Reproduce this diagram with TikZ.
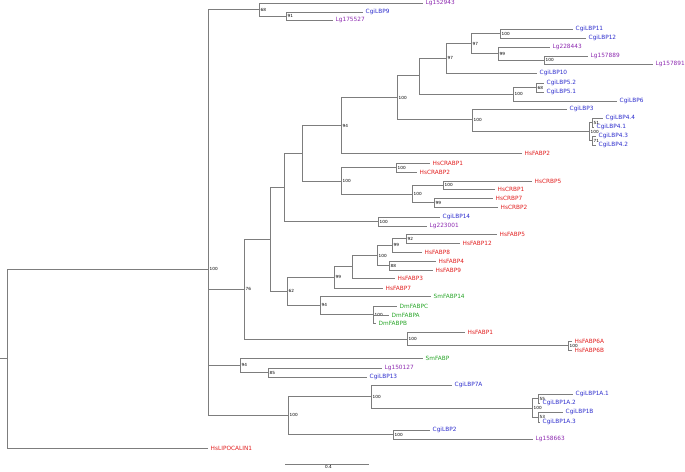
\documentclass[tikz,border=0pt]{standalone}
\usepackage{fontspec}
\setmainfont{DejaVu Sans}
\definecolor{cgi}{RGB}{45,45,205}
\definecolor{lgc}{RGB}{140,40,175}
\definecolor{hsc}{RGB}{225,30,30}
\definecolor{grc}{RGB}{40,165,40}
\definecolor{brc}{RGB}{125,125,125}
\newcommand{\myleaf}[5]{\coordinate (#1) at (#2,#3); \node[leaflab,text=#4] (t#1) at (#1) {#5};}
\newcommand{\mynd}[4]{\coordinate (#1) at (#2,#3); \node[sup] (s#1) at (#1) {#4};}
\begin{document}
\begin{tikzpicture}[x=1pt,y=-1pt,
  br/.style={draw=brc,line width=0.7pt},
  leaflab/.style={anchor=west,inner sep=0pt,xshift=2.5pt,font=\fontsize{5.8}{6}\selectfont},
  sup/.style={anchor=west,inner sep=0pt,xshift=1.5pt,font=\fontsize{4.2}{4.5}\selectfont,text=black}]
\useasboundingbox (0,0) rectangle (685,471);
% internal nodes
\coordinate (R0) at (0,358.5);
\coordinate (R) at (7,358.5);
\mynd{N100a}{208}{269}{100}
\mynd{N68}{259}{9.5}{68}
\mynd{N91}{286}{16}{91}
\mynd{N76}{244}{289}{76}
\coordinate (Z) at (270,239.25);
\coordinate (Y) at (284,187.5);
\coordinate (X) at (302,153.5);
\mynd{N94a}{341}{125.5}{94}
\mynd{N100b}{397}{97.75}{100}
\coordinate (W) at (419,75.5);
\mynd{N97b}{446}{58.25}{97}
\mynd{N97a}{471}{43.5}{97}
\mynd{N100e}{500}{33.5}{100}
\mynd{N99a}{498}{53.5}{99}
\mynd{N100f}{544}{60}{100}
\mynd{N100d}{513}{94.25}{100}
\mynd{N68b}{536}{87.5}{68}
\mynd{N100c}{472}{119.5}{100}
\mynd{N100g}{589}{131.5}{100}
\mynd{N51}{592}{122.5}{51}
\mynd{N71}{592}{140.5}{71}
\mynd{N100h}{341}{181}{100}
\mynd{N100i}{396}{167.5}{100}
\mynd{N100j}{412}{194}{100}
\mynd{N100k}{443}{185}{100}
\mynd{N99b}{434}{202.5}{99}
\mynd{N100l}{378}{221.5}{100}
\mynd{N62}{287}{291}{62}
\mynd{N99c}{334}{277}{99}
\coordinate (U) at (352,266.5);
\mynd{N100m}{377}{255.5}{100}
\mynd{N99d}{392}{245.25}{99}
\mynd{N92}{406}{238.5}{92}
\mynd{N88}{389}{265.5}{88}
\mynd{N94b}{320}{305}{94}
\mynd{N100n}{373}{314.7}{100}
\mynd{N100o}{407}{339}{100}
\mynd{N100p}{568}{345.5}{100}
\mynd{N94c}{240}{365}{94}
\mynd{N85}{268}{372.5}{85}
\mynd{N100q}{288}{415.25}{100}
\mynd{N100r}{371}{396.5}{100}
\mynd{N100t}{532}{408}{100}
\mynd{N55}{538}{398.5}{55}
\mynd{N53}{538}{417}{53}
\mynd{N100s}{393}{434.5}{100}
% leaves
\myleaf{lipo}{208}{448}{hsc}{HsLIPOCALIN1}
\myleaf{lga}{423}{3}{lgc}{Lg152943}
\myleaf{cg9}{363}{12}{cgi}{CgiLBP9}
\myleaf{lgb}{333}{20}{lgc}{Lg175527}
\myleaf{cg11}{573}{29}{cgi}{CgiLBP11}
\myleaf{cg12}{586}{38}{cgi}{CgiLBP12}
\myleaf{lgc1}{550}{47}{lgc}{Lg228443}
\myleaf{lgd}{588}{56}{lgc}{Lg157889}
\myleaf{lge}{653}{64}{lgc}{Lg157891}
\myleaf{cg10}{537}{73}{cgi}{CgiLBP10}
\myleaf{cg52}{544}{83}{cgi}{CgiLBP5.2}
\myleaf{cg51}{544}{92}{cgi}{CgiLBP5.1}
\myleaf{cg6}{617}{101}{cgi}{CgiLBP6}
\myleaf{cg3}{567}{109}{cgi}{CgiLBP3}
\myleaf{cg44}{603}{118}{cgi}{CgiLBP4.4}
\myleaf{cg41}{594}{127}{cgi}{CgiLBP4.1}
\myleaf{cg43}{596}{136}{cgi}{CgiLBP4.3}
\myleaf{cg42}{596}{145}{cgi}{CgiLBP4.2}
\myleaf{hf2}{522}{153}{hsc}{HsFABP2}
\myleaf{cra1}{430}{163}{hsc}{HsCRABP1}
\myleaf{cra2}{417}{172}{hsc}{HsCRABP2}
\myleaf{crb5}{532}{181}{hsc}{HsCRBP5}
\myleaf{crb1}{495}{189}{hsc}{HsCRBP1}
\myleaf{crb7}{493}{198}{hsc}{HsCRBP7}
\myleaf{crb2}{498}{207}{hsc}{HsCRBP2}
\myleaf{cg14}{440}{217}{cgi}{CgiLBP14}
\myleaf{lgf}{427}{226}{lgc}{Lg223001}
\myleaf{hf5}{497}{234}{hsc}{HsFABP5}
\myleaf{hf12}{460}{243}{hsc}{HsFABP12}
\myleaf{hf8}{422}{252}{hsc}{HsFABP8}
\myleaf{hf4}{436}{261}{hsc}{HsFABP4}
\myleaf{hf9}{433}{270}{hsc}{HsFABP9}
\myleaf{hf3}{395}{278}{hsc}{HsFABP3}
\myleaf{hf7}{383}{288}{hsc}{HsFABP7}
\myleaf{sm14}{431}{296}{grc}{SmFABP14}
\myleaf{dmc}{397}{306}{grc}{DmFABPC}
\myleaf{dma}{389}{315}{grc}{DmFABPA}
\myleaf{dmb}{376}{323}{grc}{DmFABPB}
\myleaf{hf1}{465}{332}{hsc}{HsFABP1}
\myleaf{hf6a}{572}{341}{hsc}{HsFABP6A}
\myleaf{hf6b}{572}{350}{hsc}{HsFABP6B}
\myleaf{smf}{423}{358}{grc}{SmFABP}
\myleaf{lgg}{382}{368}{lgc}{Lg150127}
\myleaf{cg13}{367}{377}{cgi}{CgiLBP13}
\myleaf{cg7a}{452}{385}{cgi}{CgiLBP7A}
\myleaf{cg1a1}{573}{394}{cgi}{CgiLBP1A.1}
\myleaf{cg1a2}{540}{403}{cgi}{CgiLBP1A.2}
\myleaf{cg1b}{563}{412}{cgi}{CgiLBP1B}
\myleaf{cg1a3}{540}{422}{cgi}{CgiLBP1A.3}
\myleaf{cg2}{430}{430}{cgi}{CgiLBP2}
\myleaf{lgh}{533}{439}{lgc}{Lg158663}
% branches
\draw[br] (R0) -- (R);
\draw[br] (R) |- (N100a); \draw[br] (R) |- (lipo);
\foreach \c in {N68,N76,N94c,N100q} \draw[br] (N100a) |- (\c);
\foreach \c in {lga,N91} \draw[br] (N68) |- (\c);
\foreach \c in {cg9,lgb} \draw[br] (N91) |- (\c);
\foreach \c in {Z,N100o} \draw[br] (N76) |- (\c);
\foreach \c in {Y,N62} \draw[br] (Z) |- (\c);
\foreach \c in {X,N100l} \draw[br] (Y) |- (\c);
\foreach \c in {N94a,N100h} \draw[br] (X) |- (\c);
\foreach \c in {N100b,hf2} \draw[br] (N94a) |- (\c);
\foreach \c in {W,N100c} \draw[br] (N100b) |- (\c);
\foreach \c in {N97b,N100d} \draw[br] (W) |- (\c);
\foreach \c in {N97a,cg10} \draw[br] (N97b) |- (\c);
\foreach \c in {N100e,N99a} \draw[br] (N97a) |- (\c);
\foreach \c in {cg11,cg12} \draw[br] (N100e) |- (\c);
\foreach \c in {lgc1,N100f} \draw[br] (N99a) |- (\c);
\foreach \c in {lgd,lge} \draw[br] (N100f) |- (\c);
\foreach \c in {N68b,cg6} \draw[br] (N100d) |- (\c);
\foreach \c in {cg52,cg51} \draw[br] (N68b) |- (\c);
\foreach \c in {cg3,N100g} \draw[br] (N100c) |- (\c);
\foreach \c in {N51,N71} \draw[br] (N100g) |- (\c);
\foreach \c in {cg44,cg41} \draw[br] (N51) |- (\c);
\foreach \c in {cg43,cg42} \draw[br] (N71) |- (\c);
\foreach \c in {N100i,N100j} \draw[br] (N100h) |- (\c);
\foreach \c in {cra1,cra2} \draw[br] (N100i) |- (\c);
\foreach \c in {N100k,N99b} \draw[br] (N100j) |- (\c);
\foreach \c in {crb5,crb1} \draw[br] (N100k) |- (\c);
\foreach \c in {crb7,crb2} \draw[br] (N99b) |- (\c);
\foreach \c in {cg14,lgf} \draw[br] (N100l) |- (\c);
\foreach \c in {N99c,N94b} \draw[br] (N62) |- (\c);
\foreach \c in {U,hf7} \draw[br] (N99c) |- (\c);
\foreach \c in {N100m,hf3} \draw[br] (U) |- (\c);
\foreach \c in {N99d,N88} \draw[br] (N100m) |- (\c);
\foreach \c in {N92,hf8} \draw[br] (N99d) |- (\c);
\foreach \c in {hf5,hf12} \draw[br] (N92) |- (\c);
\foreach \c in {hf4,hf9} \draw[br] (N88) |- (\c);
\foreach \c in {sm14,N100n} \draw[br] (N94b) |- (\c);
\foreach \c in {dmc,dma,dmb} \draw[br] (N100n) |- (\c);
\foreach \c in {hf1,N100p} \draw[br] (N100o) |- (\c);
\foreach \c in {hf6a,hf6b} \draw[br] (N100p) |- (\c);
\foreach \c in {smf,N85} \draw[br] (N94c) |- (\c);
\foreach \c in {lgg,cg13} \draw[br] (N85) |- (\c);
\foreach \c in {N100r,N100s} \draw[br] (N100q) |- (\c);
\foreach \c in {cg7a,N100t} \draw[br] (N100r) |- (\c);
\foreach \c in {N55,N53} \draw[br] (N100t) |- (\c);
\foreach \c in {cg1a1,cg1a2} \draw[br] (N55) |- (\c);
\foreach \c in {cg1b,cg1a3} \draw[br] (N53) |- (\c);
\foreach \c in {cg2,lgh} \draw[br] (N100s) |- (\c);
% scale bar
\coordinate (sb1) at (285,464);
\coordinate (sb2) at (369,464);
\draw[br] (sb1) -- (sb2);
\node[sup,anchor=north,xshift=0pt] (sbl) at (327,465.5) {0.4};
\end{tikzpicture}
\end{document}
